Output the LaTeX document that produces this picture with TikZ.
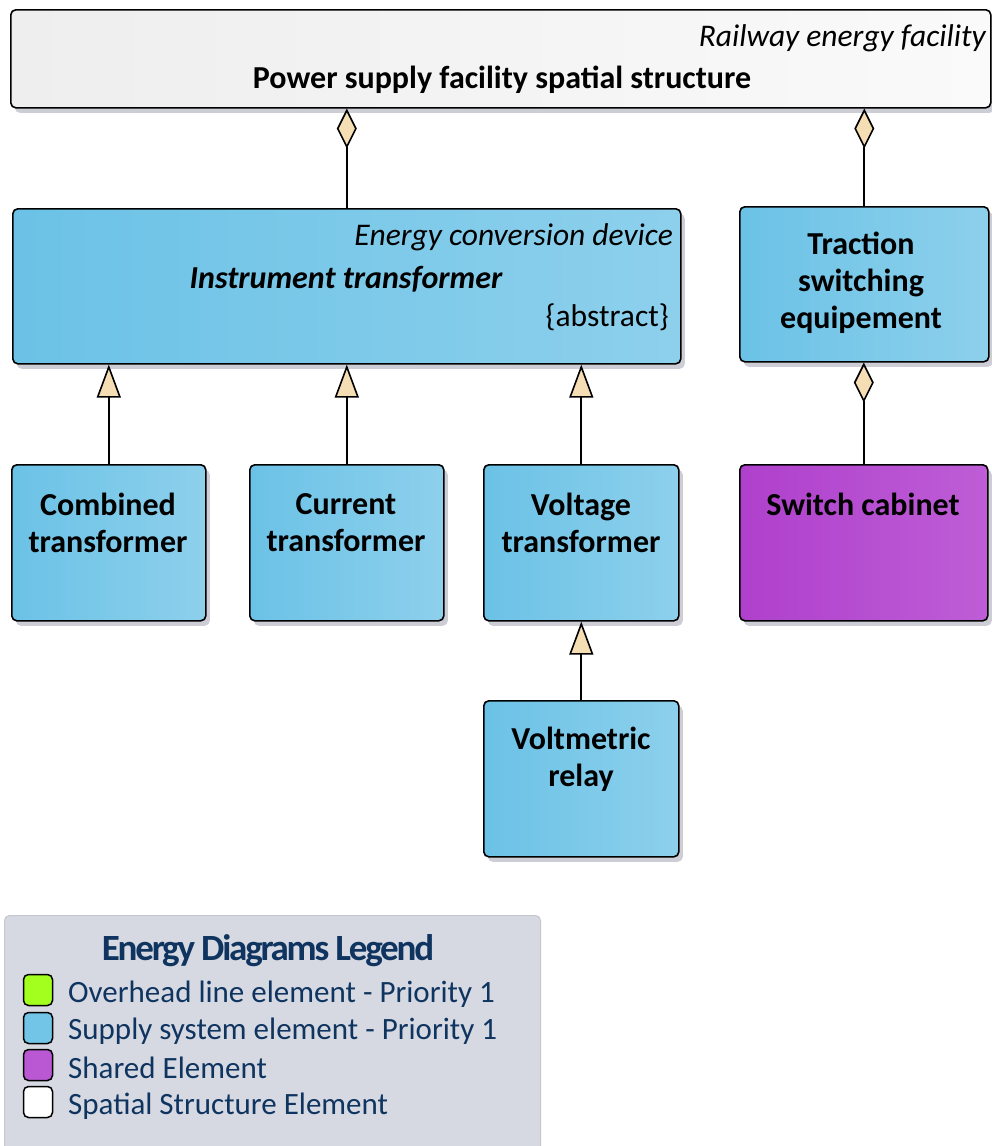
\documentclass[tikz,border=0pt]{standalone}
\usepackage{fontspec}
\setmainfont{Carlito}
\newfontfamily\legtitlefont[LetterSpace=-6]{Carlito}
\usetikzlibrary{arrows.meta,shadows}
\definecolor{blueL}{HTML}{6BC2E6}
\definecolor{blueR}{HTML}{8DD0EC}
\definecolor{purpL}{HTML}{AF40CC}
\definecolor{purpR}{HTML}{BE5DD6}
\definecolor{greyL}{HTML}{EEEEEE}
\definecolor{greyR}{HTML}{FAFAFA}
\definecolor{tipfill}{HTML}{F5DDB4}
\definecolor{legfill}{HTML}{D6D9E2}
\definecolor{legedge}{HTML}{C4C7D0}
\definecolor{legtext}{HTML}{0E345F}
\definecolor{swgreen}{HTML}{A2FF1E}
\definecolor{swblue}{HTML}{72C5E6}
\definecolor{swpurple}{HTML}{BA58D4}
\definecolor{shadowc}{HTML}{CDCDD5}
\tikzset{
  box/.style={draw=black, line width=1.6pt, rounded corners=5pt, anchor=north west, inner sep=0pt,
    drop shadow={shadow xshift=4pt, shadow yshift=-5pt, fill=shadowc, opacity=1}},
  bluebox/.style={box, left color=blueL, right color=blueR},
  purpbox/.style={box, left color=purpL, right color=purpR},
  greybox/.style={box, left color=greyL, right color=greyR},
  btxt/.style={font=\fontsize{32}{37}\selectfont\bfseries, align=center, inner sep=0pt},
  itxt/.style={font=\fontsize{31.5}{36}\selectfont\itshape, inner sep=0pt},
  comp/.style={line width=1.8pt, -{Diamond[length=40pt, width=20pt, fill=tipfill, line width=1.6pt]}},
  gen/.style={line width=1.8pt, -{Triangle[length=33pt, width=24pt, fill=tipfill, line width=1.6pt]}},
  legtxt/.style={font=\fontsize{31}{36}\selectfont, text=legtext, anchor=west, inner sep=0pt},
  swatch/.style={draw=black, line width=1.5pt, rounded corners=5pt, minimum width=29pt, minimum height=31pt, inner sep=0pt},
}
\begin{document}
\begin{tikzpicture}[x=1pt, y=-1pt]
\useasboundingbox (0,0) rectangle (992,1146);
% top box
\node[greybox, minimum width=980pt, minimum height=98pt] (top) at (10,9) {};
\node[itxt, anchor=east] (topst) at (986,38) {Railway energy facility};
\node[btxt] (topname) at (502,80) {Power supply facility spatial structure};
% instrument transformer
\node[bluebox, minimum width=668pt, minimum height=155pt] (it) at (12,208) {};
\node[itxt, anchor=east] (itst) at (673,237) {Energy conversion device};
\node[btxt, font=\fontsize{32}{37}\selectfont\bfseries\itshape] (itname) at (346,279) {Instrument transformer};
\node[font=\fontsize{31.5}{36}\selectfont, anchor=east, inner sep=0pt] (itabs) at (669,317) {\{abstract\}};
% traction switching equipement
\node[bluebox, minimum width=249pt, minimum height=155pt] (tse) at (739,206) {};
\node[btxt] (tsename) at (861,283) {Traction\\switching\\equipement};
% row 2
\node[bluebox, minimum width=194pt, minimum height=156pt] (comb) at (11,464) {};
\node[btxt] (combname) at (108,523) {Combined\\transformer};
\node[bluebox, minimum width=194pt, minimum height=156pt] (curr) at (249,464) {};
\node[btxt] (currname) at (346,523) {Current\\transformer};
\node[bluebox, minimum width=195pt, minimum height=156pt] (volt) at (483,464) {};
\node[btxt] (voltname) at (581,523) {Voltage\\transformer};
\node[purpbox, minimum width=248pt, minimum height=156pt] (sw) at (739,464) {};
\node[btxt] (swname) at (863,504) {Switch cabinet};
% voltmetric relay
\node[bluebox, minimum width=195pt, minimum height=156pt] (vr) at (483,700) {};
\node[btxt] (vrname) at (581,759) {Voltmetric\\relay};
% connectors
\draw[comp] (it.north) -- (it.north |- top.south);
\draw[comp] (tse.north) -- (tse.north |- top.south);
\draw[comp] (sw.north) -- (sw.north |- tse.south);
\draw[gen] (comb.north) -- (comb.north |- it.south);
\draw[gen] (curr.north) -- (curr.north |- it.south);
\draw[gen] (volt.north) -- (volt.north |- it.south);
\draw[gen] (vr.north) -- (vr.north |- volt.south);
% legend
\node[draw=legedge, line width=1pt, fill=legfill, rounded corners=5pt, anchor=north west, minimum width=536pt, minimum height=250pt, inner sep=0pt] (legend) at (4,915) {};
\node[font=\fontsize{37}{40}\selectfont\legtitlefont\bfseries, text=legtext, inner sep=0pt] (legtitle) at (268,951) {Energy Diagrams Legend};
\node[swatch, fill=swgreen] (sw1) at (38,990) {};
\node[swatch, fill=swblue] (sw2) at (38,1028) {};
\node[swatch, fill=swpurple] (sw3) at (38,1065) {};
\node[swatch, fill=white] (sw4) at (38,1102) {};
\node[legtxt] (lt1) at (68,994) {Overhead line element - Priority 1};
\node[legtxt] (lt2) at (68,1031) {Supply system element - Priority 1};
\node[legtxt] (lt3) at (68,1068) {Shared Element};
\node[legtxt] (lt4) at (68,1106) {Spatial Structure Element};
\end{tikzpicture}
\end{document}
